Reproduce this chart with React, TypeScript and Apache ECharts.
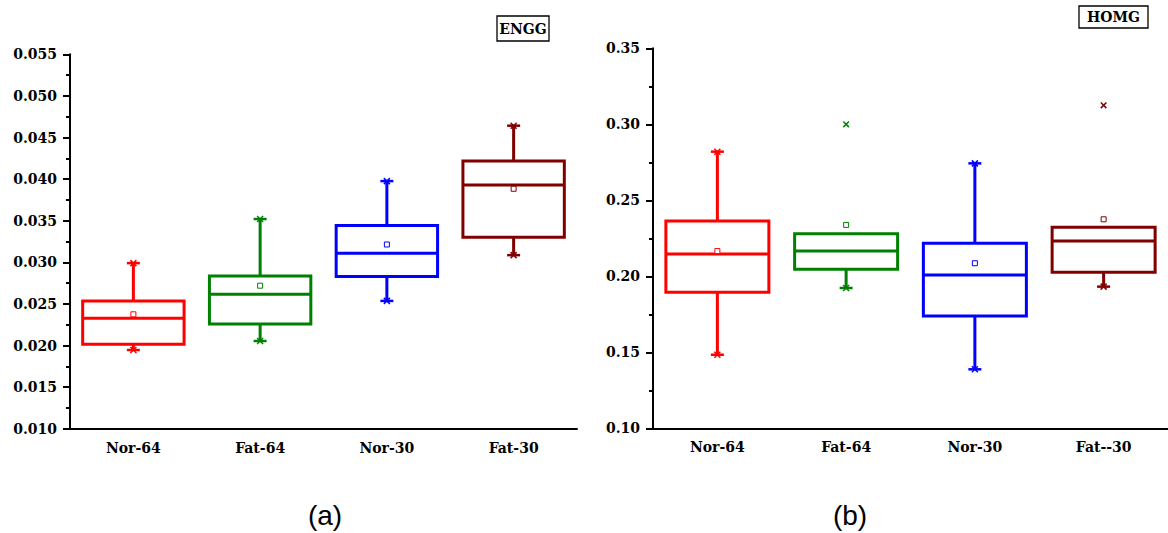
import React, { useEffect, useRef } from "react";
import * as echarts from "echarts";

const categoriesA = ["Nor-64", "Fat-64", "Nor-30", "Fat-30"];
const categoriesB = ["Nor-64", "Fat-64", "Nor-30", "Fat--30"];
const colors = ["#FF0000", "#008000", "#0000FF", "#800000"];

// ENGG panel (a)
const minA = [0.01946, 0.02054, 0.02536, 0.03086];
const q1A = [0.02014, 0.02258, 0.02829, 0.03302];
const medianA = [0.02327, 0.02615, 0.0311, 0.03928];
const q3A = [0.02535, 0.02835, 0.03443, 0.04217];
const maxA = [0.0299, 0.0352, 0.03976, 0.04642];
const meanA = [0.02375, 0.02719, 0.03214, 0.03884];
const outliersA: number[][] = [];

// HOMG panel (b)
const minB = [0.1484, 0.1923, 0.1388, 0.1932];
const q1B = [0.1895, 0.2046, 0.1739, 0.2026];
const medianB = [0.2147, 0.2166, 0.2009, 0.2232];
const q3B = [0.2364, 0.228, 0.2217, 0.2322];
const maxB = [0.282, 0.228, 0.2743, 0.2322];
const meanB = [0.2166, 0.2338, 0.2086, 0.2375];
const outliersB = [
  [1, 0.3],
  [3, 0.3125],
];

const FONT = "DejaVu Serif";

function buildBoxData(mn: number[], q1: number[], md: number[], q3: number[], mx: number[], mean: number[]) {
  return mn.map((_, i) => [i, mn[i], q1[i], md[i], q3[i], mx[i], mean[i]]);
}

function boxRender(params: any, api: any) {
  const i = api.value(0);
  const lo = api.value(1);
  const q1 = api.value(2);
  const md = api.value(3);
  const q3 = api.value(4);
  const hi = api.value(5);
  const mean = api.value(6);
  const c = colors[params.dataIndex];
  const pLo = api.coord([i, lo]);
  const pQ1 = api.coord([i, q1]);
  const pMd = api.coord([i, md]);
  const pQ3 = api.coord([i, q3]);
  const pHi = api.coord([i, hi]);
  const pMean = api.coord([i, mean]);
  const band = api.size([1, 0])[0];
  const hw = band * 0.4;
  const cx = pMd[0];
  const lw = 3;
  const children: any[] = [];
  const line = (x1: number, y1: number, x2: number, y2: number, w = lw) => ({
    type: "line",
    shape: { x1, y1, x2, y2 },
    style: { stroke: c, lineWidth: w },
  });
  const cap = (y: number) => {
    children.push(line(cx - 6.5, y, cx + 6.5, y, 2.5));
    children.push(line(cx - 3, y - 3, cx + 3, y + 3, 1.5));
    children.push(line(cx - 3, y + 3, cx + 3, y - 3, 1.5));
  };
  if (hi > q3 + 1e-9) {
    children.push(line(cx, pQ3[1], cx, pHi[1]));
    cap(pHi[1]);
  }
  if (lo < q1 - 1e-9) {
    children.push(line(cx, pQ1[1], cx, pLo[1]));
    cap(pLo[1]);
  }
  children.push({
    type: "rect",
    shape: { x: cx - hw, y: pQ3[1], width: hw * 2, height: pQ1[1] - pQ3[1] },
    style: { fill: "none", stroke: c, lineWidth: lw },
  });
  children.push(line(cx - hw, pMd[1], cx + hw, pMd[1]));
  children.push({
    type: "rect",
    shape: { x: cx - 2.5, y: pMean[1] - 2.5, width: 5, height: 5 },
    style: { fill: "#fff", stroke: c, lineWidth: 1 },
  });
  return { type: "group", children };
}

function outlierRender(params: any, api: any) {
  const i = api.value(0);
  const v = api.value(1);
  const p = api.coord([i, v]);
  const c = colors[i];
  const s = 2.8;
  return {
    type: "group",
    children: [
      { type: "line", shape: { x1: p[0] - s, y1: p[1] - s, x2: p[0] + s, y2: p[1] + s }, style: { stroke: c, lineWidth: 1.5 } },
      { type: "line", shape: { x1: p[0] - s, y1: p[1] + s, x2: p[0] + s, y2: p[1] - s }, style: { stroke: c, lineWidth: 1.5 } },
    ],
  };
}

function xAxisCfg(cats: string[], gridIndex: number) {
  return {
    type: "category",
    gridIndex,
    data: cats,
    boundaryGap: true,
    axisLine: { lineStyle: { color: "#000", width: 2 } },
    axisTick: { alignWithLabel: true, length: 6, lineStyle: { color: "#000", width: 2 } },
    axisLabel: { margin: 12, fontFamily: FONT, fontWeight: "bold", fontSize: 14, color: "#000" },
    splitLine: { show: false },
  };
}

function yAxisCfg(gridIndex: number, min: number, max: number, interval: number, digits: number) {
  return {
    type: "value",
    gridIndex,
    min,
    max,
    interval,
    axisLine: { show: true, lineStyle: { color: "#000", width: 2 } },
    axisTick: { show: true, length: 7, lineStyle: { color: "#000", width: 2 } },
    minorTick: { show: true, splitNumber: 2, length: 4, lineStyle: { color: "#000", width: 2 } },
    axisLabel: {
      margin: 13,
      fontFamily: FONT,
      fontWeight: "bold",
      fontSize: 14,
      color: "#000",
      formatter: (v: number) => v.toFixed(digits),
    },
    splitLine: { show: false },
    minorSplitLine: { show: false },
  };
}

export default function App() {
  const ref = useRef<HTMLDivElement>(null);
  useEffect(() => {
    document.body.style.margin = "0";
    const chart = echarts.init(ref.current!, null, { renderer: "svg" });
    chart.setOption({
      animation: false,
      backgroundColor: "#fff",
      grid: [
        { left: 70, top: 54.3, width: 507, height: 374.4 },
        { left: 653, top: 48.3, width: 515, height: 380 },
      ],
      xAxis: [xAxisCfg(categoriesA, 0), xAxisCfg(categoriesB, 1)],
      yAxis: [yAxisCfg(0, 0.01, 0.055, 0.005, 3), yAxisCfg(1, 0.1, 0.35, 0.05, 2)],
      series: [
        {
          type: "custom",
          xAxisIndex: 0,
          yAxisIndex: 0,
          renderItem: boxRender,
          data: buildBoxData(minA, q1A, medianA, q3A, maxA, meanA),
        },
        {
          type: "custom",
          xAxisIndex: 0,
          yAxisIndex: 0,
          renderItem: outlierRender,
          data: outliersA,
        },
        {
          type: "custom",
          xAxisIndex: 1,
          yAxisIndex: 1,
          renderItem: boxRender,
          data: buildBoxData(minB, q1B, medianB, q3B, maxB, meanB),
        },
        {
          type: "custom",
          xAxisIndex: 1,
          yAxisIndex: 1,
          renderItem: outlierRender,
          data: outliersB,
        },
      ],
      graphic: [
        {
          type: "rect",
          shape: { x: 497, y: 16, width: 52, height: 25 },
          style: { fill: "#fff", stroke: "#000", lineWidth: 1.3 },
        },
        {
          type: "text",
          x: 523,
          y: 28.5,
          style: {
            text: "ENGG",
            fontFamily: FONT,
            fontWeight: "bold",
            fontSize: 14,
            fill: "#000",
            align: "center",
            verticalAlign: "middle",
          },
        },
        {
          type: "rect",
          shape: { x: 1079, y: 6, width: 69, height: 22 },
          style: { fill: "#fff", stroke: "#000", lineWidth: 1.3 },
        },
        {
          type: "text",
          x: 1113.5,
          y: 17,
          style: {
            text: "HOMG",
            fontFamily: FONT,
            fontWeight: "bold",
            fontSize: 14,
            fill: "#000",
            align: "center",
            verticalAlign: "middle",
          },
        },
        {
          type: "text",
          x: 325,
          y: 515,
          style: {
            text: "(a)",
            fontFamily: "Liberation Sans",
            fontSize: 28,
            fill: "#000",
            align: "center",
            verticalAlign: "middle",
          },
        },
        {
          type: "text",
          x: 850,
          y: 515,
          style: {
            text: "(b)",
            fontFamily: "Liberation Sans",
            fontSize: 28,
            fill: "#000",
            align: "center",
            verticalAlign: "middle",
          },
        },
      ],
    });
    return () => chart.dispose();
  }, []);
  return <div ref={ref} style={{ width: 1168, height: 533 }} />;
}
